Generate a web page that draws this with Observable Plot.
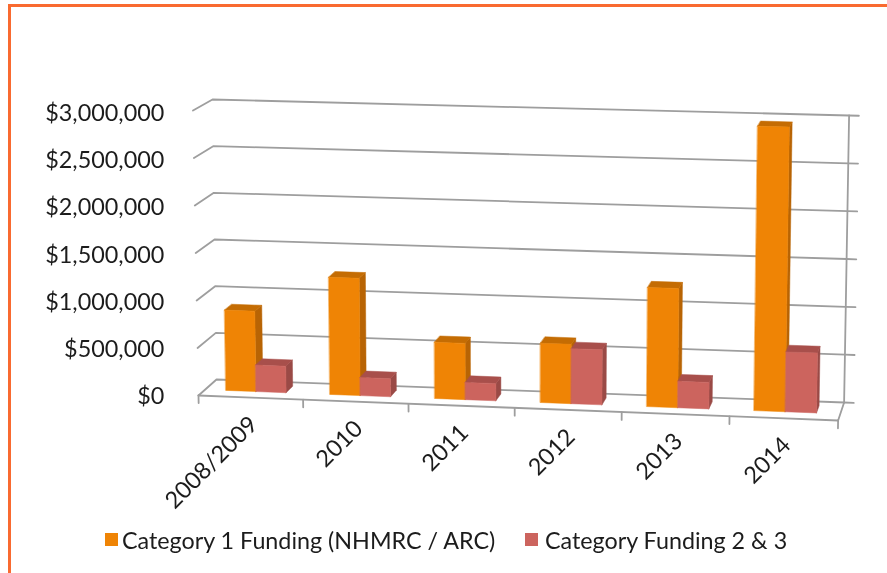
<!DOCTYPE html>
<html><head><meta charset="utf-8">
<script src="https://cdn.jsdelivr.net/npm/d3@7"></script>
<script src="https://cdn.jsdelivr.net/npm/@observablehq/plot@0.6"></script>
<style>
html,body{margin:0;padding:0;background:#fff;width:887px;height:573px;overflow:hidden}
#wrap{position:relative;width:887px;height:573px;filter:blur(.55px);font-family:Lato,sans-serif;color:#1c1c1c}
#frame{position:absolute;left:8px;top:4px;right:-10px;bottom:-10px;border-top:3px solid #F96A30;border-left:3px solid #F96A30}
#chart{position:absolute;left:0;top:0}
#legend{position:absolute;left:0;top:525px;width:887px;height:34px;font-size:23.3px}
#legend span{position:absolute;top:1px;white-space:nowrap}
#legend i{position:absolute;top:8px;width:13px;height:13px}
</style></head><body>
<div id="wrap"><div id="frame"></div><div id="chart"></div><div id="legend"></div></div>
<script>
const categories = ["2008/2009","2010","2011","2012","2013","2014"];
const category1 = [850000,1235000,590000,620000,1240000,2950000];
const category23 = [280000,190000,180000,575000,275000,620000];
const yTicks = [0,500000,1000000,1500000,2000000,2500000,3000000];
const yLabels = ["$0","$500,000","$1,000,000","$1,500,000","$2,000,000","$2,500,000","$3,000,000"];
const seriesNames = ["Category 1 Funding (NHMRC / ARC)","Category Funding 2 & 3"];
const orange = {front:"#EF8405",side:"#B86404",top:"#C46C03"};
const red = {front:"#CC645E",side:"#9A4A46",top:"#A84F4B"};

const MAX = 3e6, PX = 640/6, PY = 285;
// perspective projection: category position u, value v, depth d -> plot x/y scale units
function project(u,v,d){
  const t = v/MAX, S = 285-5*d+7*u/6;
  const dx = (18-2*u)*d + (-5.5+1.5*d+(1.75-.25*d)*u)*t;
  return {x:(104.2*u+.4*u*u+dx)/PX, y:(-25*u/6+(16+u/3)*d+S*t)/PY*MAX};
}
const D0=.37, D1=.77;
function faces(values,u0,u1){
  const front=[],side=[],top=[];
  values.forEach((v,i)=>{
    const a=i+u0,b=i+u1;
    [[a,0],[b,0],[b,v],[a,v]].forEach(([u,w])=>front.push({id:i,...project(u,w,D0)}));
    [[D0,0],[D1,0],[D1,v],[D0,v]].forEach(([d,w])=>side.push({id:i,...project(b,w,d)}));
    [[a,D0],[b,D0],[b,D1],[a,D1]].forEach(([u,d])=>top.push({id:i,...project(u,v,d)}));
  });
  return {front,side,top};
}
const poly=(pts,c)=>Plot.line(pts,{x:"x",y:"y",z:"id",fill:c,stroke:c,strokeWidth:.5,curve:"linear-closed"});
const path=(pts)=>Plot.line(pts,{x:"x",y:"y",z:"id",stroke:"#9E9E9E",strokeWidth:1.8});

const gridPts = yTicks.flatMap((v,i)=>[project(0,v,0),project(0,v,1),project(6,v,1),project(6.09,v,1)].map(p=>({id:i,...p})));
const framePts = [
  ...[project(0,0,0),project(6,0,0)].map(p=>({id:"floor",...p})),
  ...[project(6,0,0),project(6,0,1)].map(p=>({id:"edge",...p})),
  ...[project(6,0,1),project(6,MAX,1)].map(p=>({id:"wall",...p})),
  ...d3.range(7).flatMap(i=>[project(i,0,0),project(i,-80000,0)].map(p=>({id:"t"+i,...p})))
];
const o=faces(category1,.2,.49), r=faces(category23,.49,.78);
const yLabelData=yTicks.map((v,i)=>({v:v*283/285,label:yLabels[i]}));
const xLabelData=categories.map((c,i)=>({c,...project(i+.5,0,0)}));

const plot=Plot.plot({
  width:887,height:525,margin:0,
  style:{background:"transparent",fontFamily:"Lato,sans-serif"},
  x:{domain:[0,6],range:[198,838],axis:null},
  y:{domain:[0,MAX],range:[395,110],axis:null},
  marks:[
    path(gridPts),path(framePts),
    poly(o.side,orange.side),poly(o.top,orange.top),poly(o.front,orange.front),
    poly(r.side,red.side),poly(r.top,red.top),poly(r.front,red.front),
    Plot.text(yLabelData,{x:()=>-.32,y:"v",text:"label",textAnchor:"end",fontSize:23.4,dy:1,fill:"#1c1c1c"}),
    Plot.text(xLabelData,{x:"x",y:"y",text:"c",rotate:-45,textAnchor:"end",dx:3,dy:23,fontSize:23.4,fill:"#1c1c1c"})
  ]
});
document.getElementById("chart").append(plot);
const lg=document.getElementById("legend");
[[105,122,orange.front],[525,545,red.front]].forEach(([sx,tx,c],i)=>{
  const sw=document.createElement("i");sw.style.left=sx+"px";sw.style.background=c;lg.append(sw);
  const t=document.createElement("span");t.style.left=tx+"px";t.textContent=seriesNames[i];lg.append(t);
});
</script></body></html>
